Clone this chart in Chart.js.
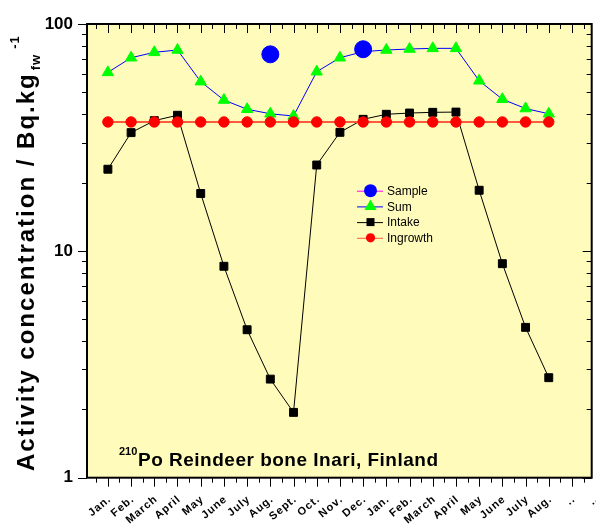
<!DOCTYPE html>
<html>
<head>
<meta charset="utf-8">
<script src="https://cdn.jsdelivr.net/npm/chart.js@4/dist/chart.umd.min.js"></script>
<style>
  html, body { margin: 0; padding: 0; background: #ffffff; }
  #wrap { width: 596px; height: 527px; }
</style>
</head>
<body>
<div id="wrap"><canvas id="c" width="596" height="527"></canvas></div>
<script>
// Month positions on the time axis (1 = first January)
const months = [1, 2, 3, 4, 5, 6, 7, 8, 9, 10, 11, 12, 13, 14, 15, 16, 17, 18, 19, 20];
const monthLabels = ['Jan.', 'Feb.', 'March', 'April', 'May', 'June', 'July', 'Aug.', 'Sept.', 'Oct.', 'Nov.', 'Dec.',
                     'Jan.', 'Feb.', 'March', 'April', 'May', 'June', 'July', 'Aug.', '..', '..'];

// Measured samples (Bq/kg fresh weight)
const sampleMonths = [8, 12];
const sampleValues = [73.5, 77.4];

// Modelled 210Po activity: intake, ingrowth and their sum
const sumValues = [61.2, 71.0, 75.0, 76.8, 55.7, 46.2, 42.1, 40.2, 39.3, 61.6, 71.0, 75.5,
                   76.8, 77.6, 78.1, 78.1, 56.2, 46.6, 42.4, 40.2];
const intakeValues = [22.9, 33.2, 37.5, 39.6, 17.9, 8.55, 4.49, 2.72, 1.94, 23.9, 33.3, 38.0,
                      40.0, 40.5, 40.8, 40.9, 18.5, 8.78, 4.60, 2.76];
const ingrowthValues = [37, 37, 37, 37, 37, 37, 37, 37, 37, 37, 37, 37,
                        37, 37, 37, 37, 37, 37, 37, 37];

const yTickValues = [1, 10, 100];

const pts = (xs, ys) => xs.map((x, i) => ({ x: x, y: ys[i] }));

const FONT = 'Arial, "Liberation Sans", Helvetica, sans-serif';
const PLOT_BG = '#FFFCBB';

// draw a string one glyph at a time with extra spacing; returns advance
function spacedText(ctx, str, x, y, spacing) {
  let cx = x;
  for (const ch of str) {
    ctx.fillText(ch, cx, y);
    cx += ctx.measureText(ch).width + spacing;
  }
  return cx - x - spacing;
}

function spacedWidth(ctx, str, spacing) {
  let w = 0;
  for (const ch of str) w += ctx.measureText(ch).width + spacing;
  return w - spacing;
}

function drawMarker(ctx, style, x, y, r, color) {
  ctx.fillStyle = color;
  ctx.beginPath();
  if (style === 'circle') {
    ctx.arc(x, y, r, 0, Math.PI * 2);
  } else if (style === 'triangle') {
    ctx.moveTo(x, y - r);
    ctx.lineTo(x + r * 0.866, y + r * 0.5);
    ctx.lineTo(x - r * 0.866, y + r * 0.5);
    ctx.closePath();
  } else {
    ctx.rect(x - r, y - r, 2 * r, 2 * r);
  }
  ctx.fill();
}

const framePlugin = {
  id: 'frame',
  beforeDraw(chart) {
    const { ctx, chartArea: a } = chart;
    ctx.save();
    ctx.fillStyle = PLOT_BG;
    ctx.fillRect(a.left, a.top, a.right - a.left, a.bottom - a.top);
    ctx.restore();
  },
  afterDraw(chart) {
    const { ctx, chartArea: a } = chart;
    const xs = chart.scales.x, ys = chart.scales.y;
    ctx.save();
    ctx.strokeStyle = '#000';
    ctx.lineWidth = 1;

    // x ticks: major at months, minor half-way; outward below, inward on top
    ctx.beginPath();
    for (let v = Math.ceil(xs.min * 2) / 2; v <= xs.max + 1e-9; v += 0.5) {
      const px = Math.round(xs.getPixelForValue(v)) + 0.5;
      const len = Number.isInteger(v) ? 9 : 5;
      ctx.moveTo(px, a.bottom); ctx.lineTo(px, a.bottom + len);
      ctx.moveTo(px, a.top); ctx.lineTo(px, a.top + len);
    }
    // y ticks: decades major, 2..9 minor; outward left, inward right
    for (let d = 1; d <= 100; d *= 10) {
      for (let m = 1; m <= (d === 100 ? 1 : 9); m++) {
        const v = m * d;
        const py = Math.round(ys.getPixelForValue(v)) + 0.5;
        const len = m === 1 ? 9 : 5;
        ctx.moveTo(a.left - len, py); ctx.lineTo(a.left, py);
        ctx.moveTo(a.right - len, py); ctx.lineTo(a.right, py);
      }
    }
    ctx.stroke();

    // plot frame
    ctx.lineWidth = 2;
    ctx.strokeRect(a.left, a.top, a.right - a.left, a.bottom - a.top);
    ctx.restore();

    // month labels, slanted, ending just right of each tick
    ctx.save();
    ctx.fillStyle = '#000';
    ctx.font = 'bold 11px ' + FONT;
    ctx.textBaseline = 'alphabetic';
    ctx.textAlign = 'left';
    monthLabels.forEach((lab, i) => {
      const px = xs.getPixelForValue(i + 1);
      ctx.save();
      ctx.translate(px + 3, a.bottom + 23);
      ctx.rotate(-40 * Math.PI / 180);
      const w = spacedWidth(ctx, lab, 1);
      spacedText(ctx, lab, -w, 0, 1);
      ctx.restore();
    });
    ctx.restore();

    // y axis title, rotated, with subscript and superscript
    ctx.save();
    ctx.fillStyle = '#000';
    ctx.translate(34, 471);
    ctx.rotate(-Math.PI / 2);
    ctx.textBaseline = 'alphabetic';
    ctx.textAlign = 'left';
    ctx.font = 'bold 24px ' + FONT;
    let w = spacedText(ctx, 'Activity concentration / Bq.kg', 0, 0, 2);
    ctx.font = 'bold 13px ' + FONT;
    const w2 = spacedText(ctx, 'fw', w + 4, 6, 1);
    spacedText(ctx, '-1', w + 4 + w2 + 6, -15, 1);
    ctx.restore();

    // annotation
    ctx.save();
    ctx.fillStyle = '#000';
    ctx.textBaseline = 'alphabetic';
    ctx.font = 'bold 11px ' + FONT;
    ctx.fillText('210', 119, 455);
    ctx.font = 'bold 19px ' + FONT;
    spacedText(ctx, 'Po Reindeer bone Inari, Finland', 138, 466, 0.5);
    ctx.restore();

    // legend: line segment with marker, then label
    const order = ['Sample', 'Sum', 'Intake', 'Ingrowth'];
    const legendR = { Sample: 6.5, Sum: 7, Intake: 4, Ingrowth: 4.6 };
    ctx.save();
    ctx.font = '12px ' + FONT;
    ctx.textBaseline = 'middle';
    order.forEach((name, i) => {
      const ds = chart.data.datasets.find(d => d.label === name);
      const y = 190.7 + i * 15.7;
      ctx.strokeStyle = ds.borderColor;
      ctx.lineWidth = 1;
      ctx.beginPath();
      ctx.moveTo(357, y + 0.5); ctx.lineTo(383, y + 0.5);
      ctx.stroke();
      drawMarker(ctx, ds.pointStyle, 370.5, y, legendR[name], ds.pointBackgroundColor);
      ctx.fillStyle = '#000';
      ctx.fillText(name, 387, y + 1);
    });
    ctx.restore();
  }
};

new Chart(document.getElementById('c'), {
  type: 'line',
  data: {
    datasets: [
      {
        label: 'Sample',
        data: pts(sampleMonths, sampleValues),
        showLine: false,
        borderColor: '#FF00FF',
        pointStyle: 'circle',
        pointRadius: 8.5,
        pointBackgroundColor: '#0000FF',
        pointBorderColor: '#0000FF',
        pointBorderWidth: 1
      },
      {
        label: 'Ingrowth',
        data: pts(months, ingrowthValues),
        borderColor: '#FF5A3C',
        borderWidth: 2,
        pointStyle: 'circle',
        pointRadius: 5.2,
        pointBackgroundColor: '#FF0000',
        pointBorderColor: '#FF0000',
        pointBorderWidth: 1
      },
      {
        label: 'Intake',
        data: pts(months, intakeValues),
        borderColor: '#000000',
        borderWidth: 1,
        pointStyle: 'rect',
        pointRadius: 5.6,
        pointBackgroundColor: '#000000',
        pointBorderColor: '#000000',
        pointBorderWidth: 1
      },
      {
        label: 'Sum',
        data: pts(months, sumValues),
        borderColor: '#0000FF',
        borderWidth: 1,
        pointStyle: 'triangle',
        pointRadius: 6.5,
        pointBackgroundColor: '#00FF00',
        pointBorderColor: '#00FF00',
        pointBorderWidth: 1
      }
    ]
  },
  options: {
    responsive: false,
    animation: false,
    devicePixelRatio: 1,
    layout: { autoPadding: false, padding: { top: 24, right: 4.3, left: 0, bottom: 0 } },
    plugins: { legend: { display: false }, tooltip: { enabled: false } },
    elements: { line: { tension: 0 } },
    scales: {
      x: {
        type: 'linear',
        min: 0.1,
        max: 21.85,
        afterFit: s => { s.height = 49.3; s.paddingLeft = 0; s.paddingRight = 0; },
        grid: { display: false, drawTicks: false },
        border: { display: false },
        ticks: { display: false }
      },
      y: {
        type: 'logarithmic',
        min: 1,
        max: 100,
        afterBuildTicks: s => { s.ticks = yTickValues.map(v => ({ value: v })); },
        afterFit: s => { s.width = 87; s.paddingTop = 0; s.paddingBottom = 0; },
        grid: { display: false, drawTicks: false },
        border: { display: false },
        ticks: {
          padding: 14,
          color: '#000',
          font: { family: FONT, size: 17, weight: 'bold' },
          callback: v => String(v)
        }
      }
    }
  },
  plugins: [framePlugin]
});
</script>
</body>
</html>
